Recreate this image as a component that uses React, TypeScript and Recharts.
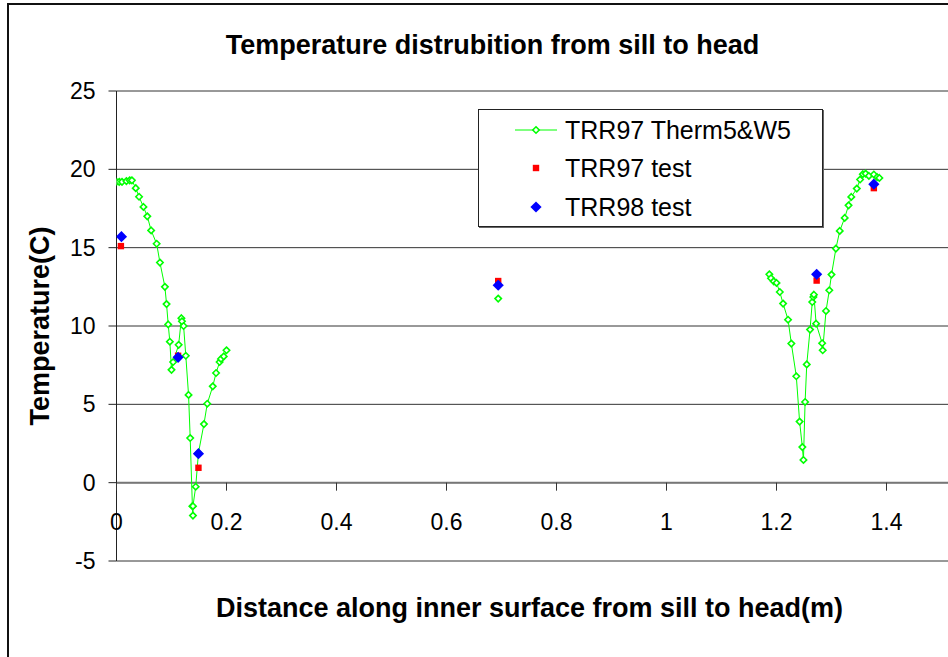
import React from 'react';
import { ComposedChart, Line, Scatter, XAxis, YAxis, CartesianGrid, ReferenceLine } from 'recharts';

// ---- data ----
const leftX = [0, 0.005, 0.01, 0.018, 0.024, 0.028, 0.035, 0.041, 0.049, 0.056, 0.063, 0.073, 0.079, 0.088, 0.091, 0.094, 0.097, 0.1, 0.103, 0.113, 0.118, 0.119, 0.122, 0.126, 0.131, 0.134, 0.138, 0.139, 0.139, 0.144, 0.149, 0.159, 0.165, 0.175, 0.181, 0.1875, 0.19, 0.195, 0.2];
const leftY = [19.2, 19.2, 19.2, 19.25, 19.3, 19.3, 18.8, 18.25, 17.6, 17.0, 16.1, 15.25, 14.05, 12.5, 11.4, 10.1, 9.0, 7.2, 7.7, 8.8, 10.5, 10.3, 10.0, 8.1, 5.6, 2.85, -1.5, -2.1, -1.5, -0.26, 1.9, 3.74, 5.04, 6.15, 7.0, 7.7, 7.9, 8.06, 8.45];
const midX = [0.694];
const midY = [11.75];
const rightX = [1.187, 1.19, 1.195, 1.2, 1.206, 1.212, 1.221, 1.227, 1.236, 1.242, 1.247, 1.249, 1.252, 1.255, 1.261, 1.265, 1.267, 1.268, 1.272, 1.283, 1.284, 1.29, 1.296, 1.3, 1.308, 1.315, 1.324, 1.331, 1.336, 1.346, 1.352, 1.357, 1.362, 1.368, 1.377, 1.383, 1.387];
const rightY = [13.3, 13.05, 12.85, 12.75, 12.17, 11.43, 10.4, 8.88, 6.79, 3.9, 2.27, 1.45, 5.15, 7.55, 9.77, 11.53, 11.85, 12.0, 10.15, 8.9, 8.45, 10.96, 12.28, 13.28, 14.94, 16.07, 16.9, 17.7, 18.24, 18.77, 19.35, 19.69, 19.73, 19.58, 19.67, 19.5, 19.45];
const trr97X = [0.008, 0.112, 0.149, 0.694, 1.273, 1.377];
const trr97Y = [15.1, 8.1, 0.95, 12.87, 12.9, 18.8];
const trr98X = [0.009, 0.112, 0.149, 0.694, 1.273, 1.377];
const trr98Y = [15.7, 8.0, 1.85, 12.6, 13.3, 19.05];
const xTicks = [0, 0.2, 0.4, 0.6, 0.8, 1, 1.2, 1.4];
const yTicks = [-5, 0, 5, 10, 15, 20, 25];
const seriesNames = ['TRR97 Therm5&W5', 'TRR97 test', 'TRR98 test'];
const seriesColors = ['#00ff00', '#ff0000', '#0000ff'];
const titleText = 'Temperature distrubition from sill to head';
const xTitle = 'Distance along inner surface from sill to head(m)';
const yTitle = 'Temperature(C)';

// ---- layout ----
const FONT = '"Liberation Sans", Arial, Helvetica, sans-serif';
const X_MIN = 0, X_MAX = 1.6, Y_MIN = -5, Y_MAX = 25;
const CHART_W = 1000, CHART_H = 657;
const PLOT_TOP = 91, Y_AXIS_W = 116.5, X_AXIS_H = 96;
const PLOT_H = CHART_H - PLOT_TOP - X_AXIS_H;

const toPts = (xs: number[], ys: number[]) => xs.map((x, i) => ({ x, y: ys[i] }));
const leftPts = toPts(leftX, leftY);
const midPts = toPts(midX, midY);
const rightPts = toPts(rightX, rightY);
const red = toPts(trr97X, trr97Y);
const blue = toPts(trr98X, trr98Y);

const GreenDot = (p: any) => {
  const { cx, cy } = p;
  if (cx == null || cy == null) return null;
  const s = 3.2;
  return (
    <polygon key={`g${p.index}`} points={`${cx},${cy - s} ${cx + s},${cy} ${cx},${cy + s} ${cx - s},${cy}`}
      fill="#ffffff" stroke={seriesColors[0]} strokeWidth={1.6} />
  );
};
const RedSquare = (p: any) => {
  const { cx, cy } = p;
  return <rect x={cx - 3.2} y={cy - 3.2} width={6.4} height={6.4} fill={seriesColors[1]} />;
};
const BlueDiamond = (p: any) => {
  const { cx, cy } = p;
  const s = 5.6;
  return <polygon points={`${cx},${cy - s} ${cx + s},${cy} ${cx},${cy + s} ${cx - s},${cy}`} fill={seriesColors[2]} />;
};

const XTick = (props: any) => {
  const { x, y, payload } = props;
  const zeroY = y - (PLOT_H * (0 - Y_MIN)) / (Y_MAX - Y_MIN);
  return (
    <g>
      <line x1={x} x2={x} y1={zeroY} y2={zeroY + 8} stroke="#333" strokeWidth={1} />
      <text x={x} y={zeroY + 39} dy="0.355em" textAnchor="middle" fontSize={23} fill="#000" fontFamily={FONT}>
        {String(payload.value)}
      </text>
    </g>
  );
};

const LegendMarker = ({ i }: { i: number }) => (
  <svg width={50} height={20} style={{ display: 'block' }}>
    {i === 0 && <line x1={0} x2={42} y1={10} y2={10} stroke={seriesColors[0]} strokeWidth={1} />}
    {i === 0 && <GreenDot cx={21} cy={10} index={0} />}
    {i === 1 && <RedSquare cx={21} cy={10} />}
    {i === 2 && <BlueDiamond cx={21} cy={10} />}
  </svg>
);

export default function App() {
  return (
    <div style={{ position: 'fixed', left: 0, top: 0, width: 948, height: 657, overflow: 'hidden', background: '#fff', fontFamily: FONT }}>
      <div style={{ position: 'absolute', left: 7, top: 3, width: 1100, height: 800, border: '2px solid #111', boxSizing: 'border-box' }} />
      <div style={{ position: 'absolute', left: 0, top: 0 }}>
        <ComposedChart width={CHART_W} height={CHART_H} margin={{ top: PLOT_TOP, right: CHART_W - Y_AXIS_W - 880, left: 0, bottom: 0 }}>
          <CartesianGrid vertical={false} stroke="#333" strokeWidth={1} />
          <XAxis dataKey="x" type="number" domain={[X_MIN, X_MAX]} ticks={xTicks} height={X_AXIS_H}
            axisLine={false} tickLine={false} tickSize={0} tickMargin={0} tick={<XTick />} interval={0} allowDataOverflow />
          <YAxis type="number" domain={[Y_MIN, Y_MAX]} ticks={yTicks} width={Y_AXIS_W} interval={0}
            axisLine={{ stroke: '#222', strokeWidth: 1 }} tickLine={{ stroke: '#222' }} tickSize={8} tickMargin={13}
            tick={{ fontSize: 23, fill: '#000', fontFamily: FONT }} />
          <ReferenceLine y={0} stroke="#777" strokeWidth={2} />
          <Line data={leftPts} dataKey="y" type="linear" stroke={seriesColors[0]} strokeWidth={1} dot={GreenDot} activeDot={false} isAnimationActive={false} legendType="none" />
          <Line data={midPts} dataKey="y" type="linear" stroke={seriesColors[0]} strokeWidth={1} dot={GreenDot} activeDot={false} isAnimationActive={false} legendType="none" />
          <Line data={rightPts} dataKey="y" type="linear" stroke={seriesColors[0]} strokeWidth={1} dot={GreenDot} activeDot={false} isAnimationActive={false} legendType="none" />
          <Scatter data={red} dataKey="y" shape={RedSquare} isAnimationActive={false} legendType="none" />
          <Scatter data={blue} dataKey="y" shape={BlueDiamond} isAnimationActive={false} legendType="none" />
        </ComposedChart>
      </div>
      <div style={{ position: 'absolute', left: 492.5, top: 45, transform: 'translate(-50%, -50%)', fontSize: 27, fontWeight: 'bold', whiteSpace: 'nowrap', color: '#000' }}>{titleText}</div>
      <div style={{ position: 'absolute', left: 529.5, top: 608, transform: 'translate(-50%, -50%)', fontSize: 27, fontWeight: 'bold', whiteSpace: 'nowrap', color: '#000' }}>{xTitle}</div>
      <div style={{ position: 'absolute', left: 40, top: 326, transform: 'translate(-50%, -50%) rotate(-90deg)', fontSize: 27, fontWeight: 'bold', whiteSpace: 'nowrap', color: '#000' }}>{yTitle}</div>
      <div style={{ position: 'absolute', left: 478, top: 109, width: 345, height: 118, boxSizing: 'border-box', border: '1px solid #222', boxShadow: '1px 1px 0 #666', background: '#fff' }}>
        {seriesNames.map((n, i) => (
          <div key={n} style={{ position: 'absolute', left: 36, top: [20, 57.7, 97][i] - 10, height: 20, display: 'flex', alignItems: 'center' }}>
            <LegendMarker i={i} />
            <span style={{ fontSize: 25, color: '#000', marginLeft: 0, lineHeight: '20px', whiteSpace: 'nowrap' }}>{n}</span>
          </div>
        ))}
      </div>
    </div>
  );
}
